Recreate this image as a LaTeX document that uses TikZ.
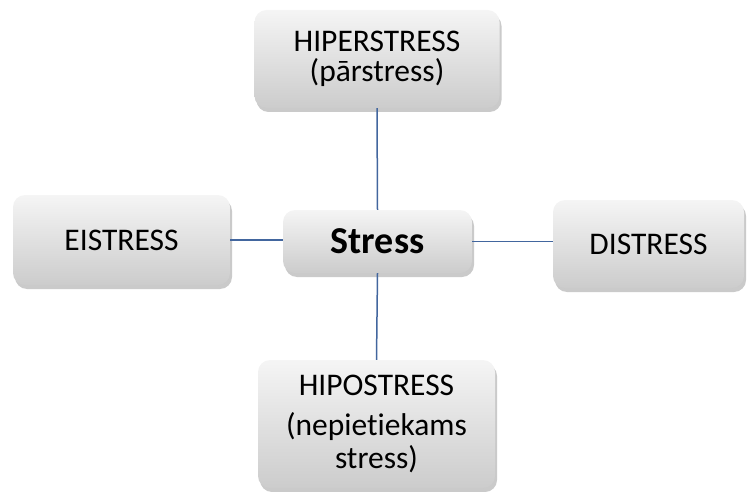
\documentclass[tikz,border=0pt]{standalone}
\usepackage{fontspec}
\setmainfont[Ligatures=NoCommon]{Carlito}
\usetikzlibrary{positioning,shadows}

\begin{document}
\begin{tikzpicture}[x=1pt,y=-1pt,
    box/.style={rounded corners=12pt,top color=white!96!black,bottom color=black!20,
      draw=none,align=center,inner sep=0pt,
      font=\fontsize{31.5}{30}\selectfont,
      drop shadow={shadow xshift=2pt,shadow yshift=-4pt,opacity=0.35,fill=black!60}},
    link/.style={draw=linkblue,line width=1.5pt}]
  \definecolor{linkblue}{RGB}{66,102,158}
  \useasboundingbox (0,0) rectangle (747,492);
  \node[box,minimum width=189pt,minimum height=63pt,font=\fontsize{38}{40}\selectfont\bfseries] (stress) at (377.5,241.5) {Stress};
  \node[box,minimum width=245pt,minimum height=98pt] (hyper) at (377,59) {HIPERSTRESS\\(pārstress)};
  \node[box,minimum width=237pt,minimum height=128pt] (hypo) at (376.5,424) {HIPOSTRESS\\[10pt](nepietiekams\\[3pt]stress)};
  \node[box,minimum width=217pt,minimum height=90pt] (eustress) at (121.5,240) {EISTRESS};
  \node[box,minimum width=191pt,minimum height=88pt] (distress) at (648.5,244) {DISTRESS};
  \draw[link] (hyper.south) -- (stress.north);
  \draw[link] (stress.south) -- (hypo.north);
  \draw[link] (eustress.east) -- (eustress.east -| stress.west);
  \draw[link] (stress.east) -- (stress.east -| distress.west);
\end{tikzpicture}
\end{document}
